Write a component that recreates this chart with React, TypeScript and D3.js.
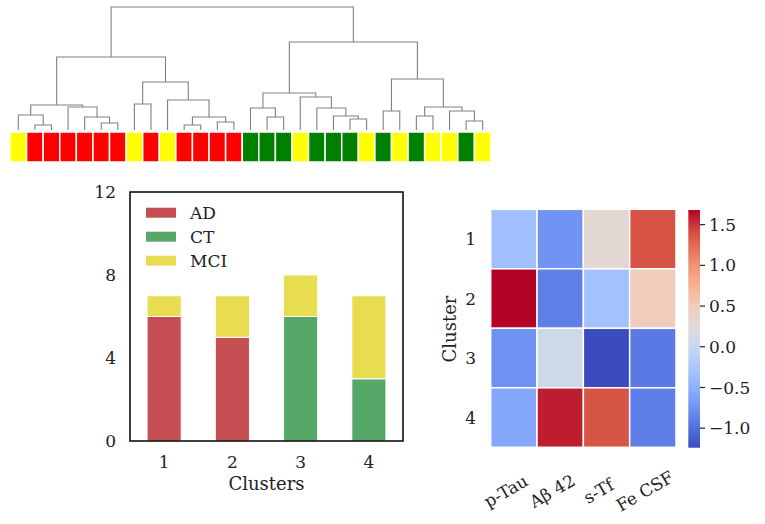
import React, { useRef, useEffect } from 'react';
import * as d3 from 'd3';

// leaf order of the dendrogram, one entry per subject
const leafClass = [
  'MCI', 'AD', 'AD', 'AD', 'AD', 'AD', 'AD',
  'MCI', 'AD', 'MCI', 'AD', 'AD', 'AD', 'AD',
  'CT', 'CT', 'CT', 'MCI', 'CT', 'CT', 'CT', 'MCI',
  'CT', 'MCI', 'CT', 'MCI', 'MCI', 'CT', 'MCI'
];
const leafColors: Record<string, string> = { AD: '#FF0000', CT: '#008000', MCI: '#FFFF00' };

// scipy style linkage: [left, right, distance], new node id = 29 + row index
const linkage: [number, number, number][] = [
  [1, 2, 0.5],
  [5, 6, 0.7],
  [4, 30, 1.3],
  [0, 29, 1.5],
  [3, 31, 2.3],
  [32, 33, 2.5],
  [10, 11, 0.5],
  [12, 13, 0.8],
  [35, 36, 1.3],
  [7, 8, 2.6],
  [9, 37, 3.0],
  [38, 39, 4.8],
  [34, 40, 7.3],
  [15, 16, 1.3],
  [20, 21, 1.1],
  [19, 43, 1.4],
  [14, 42, 2.2],
  [18, 44, 2.2],
  [17, 46, 3.3],
  [45, 47, 3.7],
  [22, 23, 1.9],
  [24, 25, 1.4],
  [27, 28, 0.9],
  [26, 51, 1.9],
  [50, 52, 2.3],
  [49, 53, 5.1],
  [48, 54, 8.8],
  [41, 55, 12.3]
];

// stacked bars
const clusters = ['1', '2', '3', '4'];
const groups = ['AD', 'CT', 'MCI'];
const adCounts = [6, 5, 0, 0];
const ctCounts = [0, 0, 6, 3];
const mciCounts = [1, 2, 2, 4];
const barColors = ['#C44E52', '#55A868', '#E8DC50'];
const barTicks = [0, 4, 8, 12];

// heatmap
const features = ['p-Tau', 'Aβ 42', 's-Tf', 'Fe CSF'];
const heatRows = [
  [-0.35, -0.74, 0.3, 1.38],
  [1.68, -0.89, -0.33, 0.48],
  [-0.75, 0.06, -1.24, -0.93],
  [-0.58, 1.59, 1.37, -0.9]
];
const colorbarTicks = [-1.0, -0.5, 0.0, 0.5, 1.0, 1.5];
const coolwarm = [
  '#3b4cc0', '#5977e3', '#7b9ff9', '#9ebeff', '#c0d4f5', '#dddcdc',
  '#f2cbb7', '#f7ac8e', '#ee8468', '#d65244', '#b40426'
];

const FONT = 'DejaVu Serif';
const TICK = '17px';
const TITLE = '18px';

export default function App(): JSX.Element {
  const divRef = useRef<HTMLDivElement>(null);
  useEffect(() => {
    const divEle = divRef.current;
    if (divEle == null) return;
    d3.select(divEle).selectAll('*').remove();

    const svg = d3
      .select(divEle)
      .append('svg')
      .attr('width', 765)
      .attr('height', 524)
      .style('position', 'absolute')
      .style('left', 0)
      .style('top', 0)
      .style('background', '#fff')
      .style('font-family', FONT);

    // ---------- dendrogram + class strip ----------
    const nLeaf = leafClass.length;
    const xLeaf = d3.scaleBand<number>().domain(d3.range(nLeaf)).range([10, 491]);
    const yDist = d3.scaleLinear().domain([0, 12.3]).range([130, 7]);

    const nodeX: number[] = d3.range(nLeaf).map((i) => (xLeaf(i) as number) + xLeaf.bandwidth() / 2);
    const nodeH: number[] = d3.range(nLeaf).map(() => 0);
    linkage.forEach(([a, b, h]) => {
      nodeX.push((nodeX[a] + nodeX[b]) / 2);
      nodeH.push(h);
    });

    svg
      .append('g')
      .selectAll('path')
      .data(linkage)
      .join('path')
      .attr('d', ([a, b, h]) => {
        const p = d3.path();
        p.moveTo(nodeX[a], yDist(nodeH[a]));
        p.lineTo(nodeX[a], yDist(h));
        p.lineTo(nodeX[b], yDist(h));
        p.lineTo(nodeX[b], yDist(nodeH[b]));
        return p.toString();
      })
      .attr('fill', 'none')
      .attr('stroke', '#808080')
      .attr('stroke-width', 1.1);

    svg
      .append('g')
      .selectAll('rect')
      .data(leafClass)
      .join('rect')
      .attr('x', (_, i) => xLeaf(i) as number)
      .attr('y', 132)
      .attr('width', xLeaf.bandwidth())
      .attr('height', 30)
      .attr('fill', (d) => leafColors[d])
      .attr('stroke', '#fff')
      .attr('stroke-width', 1.5);

    // ---------- stacked bar chart ----------
    const bx = d3.scaleLinear().domain([0.5, 4.5]).range([130, 403]);
    const by = d3.scaleLinear().domain([0, 12]).range([441, 192]);
    const barRows = clusters.map((c, i) => ({ c, AD: adCounts[i], CT: ctCounts[i], MCI: mciCounts[i] }));
    const stack = d3.stack<any>().keys(groups)(barRows);
    const barW = bx(1.25) - bx(1);

    const bars = svg.append('g');
    stack.forEach((layer, li) => {
      bars
        .append('g')
        .selectAll('rect')
        .data(layer.filter((d) => d[1] > d[0]))
        .join('rect')
        .attr('x', (d) => bx(+d.data.c) - barW)
        .attr('y', (d) => by(d[1]))
        .attr('width', barW * 2)
        .attr('height', (d) => by(d[0]) - by(d[1]))
        .attr('fill', barColors[li])
        .attr('stroke', '#fff')
        .attr('stroke-width', 1);
    });

    svg
      .append('rect')
      .attr('x', 130)
      .attr('y', 192)
      .attr('width', 273)
      .attr('height', 249)
      .attr('fill', 'none')
      .attr('stroke', '#000')
      .attr('stroke-width', 1.5);

    svg
      .append('g')
      .selectAll('text')
      .data(barTicks)
      .join('text')
      .attr('x', 116)
      .attr('y', (d) => by(d))
      .attr('dy', '0.36em')
      .attr('text-anchor', 'end')
      .style('font-size', TICK)
      .attr('fill', '#222')
      .text((d) => d);

    svg
      .append('g')
      .selectAll('text')
      .data(clusters)
      .join('text')
      .attr('x', (d) => bx(+d))
      .attr('y', 468)
      .attr('text-anchor', 'middle')
      .style('font-size', TICK)
      .attr('fill', '#222')
      .text((d) => d);

    svg
      .append('text')
      .attr('x', 266.5)
      .attr('y', 490)
      .attr('text-anchor', 'middle')
      .style('font-size', TITLE)
      .attr('fill', '#222')
      .text('Clusters');

    const legend = svg
      .append('g')
      .selectAll('g')
      .data(groups)
      .join('g')
      .attr('transform', (_, i) => `translate(146, ${207.7 + i * 24})`);
    legend
      .append('rect')
      .attr('width', 30)
      .attr('height', 10)
      .attr('fill', (_, i) => barColors[i]);
    legend
      .append('text')
      .attr('x', 44)
      .attr('y', 5)
      .attr('dy', '0.36em')
      .style('font-size', TICK)
      .attr('fill', '#222')
      .text((d) => d);

    // ---------- heatmap ----------
    const vmin = d3.min(heatRows.flat()) as number;
    const vmax = d3.max(heatRows.flat()) as number;
    const color = d3
      .scaleLinear<string>()
      .domain(coolwarm.map((_, i) => vmin + (i / (coolwarm.length - 1)) * (vmax - vmin)))
      .range(coolwarm)
      .interpolate(d3.interpolateRgb);

    const hx = d3.scaleBand<string>().domain(features).range([490.7, 676]);
    const hy = d3.scaleBand<string>().domain(clusters).range([209.3, 447.3]);

    const cells = heatRows.flatMap((row, r) => row.map((v, c) => ({ r, c, v })));
    svg
      .append('g')
      .selectAll('rect')
      .data(cells)
      .join('rect')
      .attr('x', (d) => hx(features[d.c]) as number)
      .attr('y', (d) => hy(clusters[d.r]) as number)
      .attr('width', hx.bandwidth())
      .attr('height', hy.bandwidth())
      .attr('fill', (d) => color(d.v))
      .attr('stroke', '#fff')
      .attr('stroke-width', 1.5);

    svg
      .append('g')
      .selectAll('text')
      .data(clusters)
      .join('text')
      .attr('x', 476)
      .attr('y', (d) => (hy(d) as number) + hy.bandwidth() / 2)
      .attr('dy', '0.36em')
      .attr('text-anchor', 'end')
      .style('font-size', TICK)
      .attr('fill', '#222')
      .text((d) => d);

    svg
      .append('g')
      .selectAll('text')
      .data(features)
      .join('text')
      .attr('transform', (d) => {
        const cx = (hx(d) as number) + hx.bandwidth() / 2 - 8;
        return `translate(${cx}, 491) rotate(-30)`;
      })
      .attr('dy', '0.36em')
      .attr('text-anchor', 'middle')
      .style('font-size', TICK)
      .attr('fill', '#222')
      .text((d) => d);

    svg
      .append('text')
      .attr('transform', 'translate(450, 329) rotate(-90)')
      .attr('dy', '0.36em')
      .attr('text-anchor', 'middle')
      .style('font-size', TITLE)
      .attr('fill', '#222')
      .text('Cluster');

    // colorbar
    const cy = d3.scaleLinear().domain([vmin, vmax]).range([447.7, 210]);
    const grad = svg
      .append('defs')
      .append('linearGradient')
      .attr('id', 'cbar')
      .attr('x1', 0)
      .attr('y1', 1)
      .attr('x2', 0)
      .attr('y2', 0);
    grad
      .selectAll('stop')
      .data(coolwarm)
      .join('stop')
      .attr('offset', (_, i) => i / (coolwarm.length - 1))
      .attr('stop-color', (d) => d);

    svg
      .append('rect')
      .attr('x', 688.3)
      .attr('y', 210)
      .attr('width', 11.7)
      .attr('height', 237.7)
      .attr('fill', 'url(#cbar)');

    const cbTicks = svg
      .append('g')
      .selectAll('g')
      .data(colorbarTicks)
      .join('g')
      .attr('transform', (d) => `translate(700, ${cy(d)})`);
    cbTicks.append('line').attr('x2', 5).attr('stroke', '#222').attr('stroke-width', 1.2);
    cbTicks
      .append('text')
      .attr('x', 9)
      .attr('dy', '0.36em')
      .style('font-size', TICK)
      .attr('fill', '#222')
      .text((d) => d3.format('.1f')(d));
  }, []);
  return <div ref={divRef} style={{ width: 765, height: 524 }} />;
}
